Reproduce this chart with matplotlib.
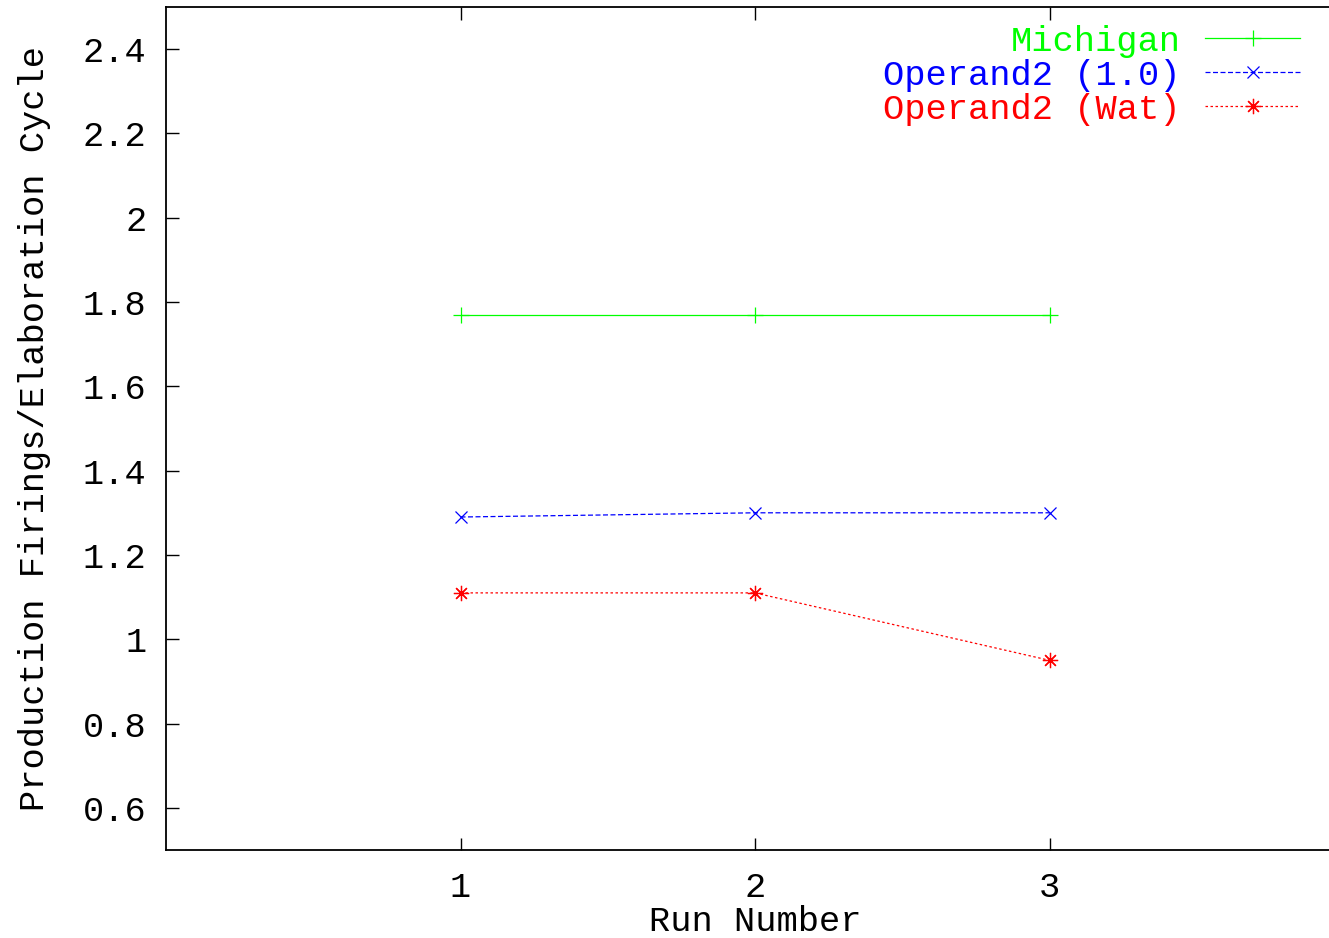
import numpy as np
import matplotlib.pyplot as plt

# данные
runs = [1, 2, 3]
michigan = [1.77, 1.77, 1.77]
operand_10 = [1.29, 1.30, 1.30]
operand_wat = [1.11, 1.11, 0.95]
y_ticks = [0.6, 0.8, 1.0, 1.2, 1.4, 1.6, 1.8, 2.0, 2.2, 2.4]
y_tick_labels = ["0.6", "0.8", "1", "1.2", "1.4", "1.6", "1.8", "2", "2.2", "2.4"]

plt.rcParams["font.family"] = ["Liberation Mono", "DejaVu Sans Mono"]
plt.rcParams["font.size"] = 25.5

fig = plt.figure(figsize=(13.29, 9.38), dpi=100)
# правая граница осей уходит за край картинки, как в оригинале
ax = fig.add_axes([166 / 1329, (938 - 850) / 938, 1178 / 1329, 843 / 938])

ax.plot(runs, michigan, color="#00ff00", lw=0.9, marker="+", ms=11, mew=0.9,
        label="Michigan")
ax.plot(runs, operand_10, color="#0000ff", lw=0.9, ls=(0, (4, 2)), marker="x",
        ms=9, mew=0.9, label="Operand2 (1.0)")
ax.plot(runs, operand_wat, color="#ff0000", lw=0.9, ls=(0, (2, 2)),
        marker=(8, 2, 0), ms=11, mew=0.9, label="Operand2 (Wat)")

ax.set_xlim(0, 4)
ax.set_ylim(0.5, 2.5)
ax.set_xticks(runs)
ax.set_xticklabels([str(r) for r in runs])
ax.set_yticks(y_ticks)
ax.set_yticklabels(y_tick_labels)
ax.tick_params(axis="x", direction="in", length=9, width=1, top=True, pad=15)
ax.tick_params(axis="y", direction="in", length=9, width=1, right=False, pad=14)
for s in ax.spines.values():
    s.set_linewidth(1.3)

ax.set_xlabel("Run Number", labelpad=1)
ax.set_ylabel("Production Firings/Elaboration Cycle", labelpad=23)

leg = ax.legend(loc="upper right", bbox_to_anchor=((1300 - 166) / 1178, 0.979),
                markerfirst=False, frameon=False, labelcolor="linecolor",
                handlelength=2.68, handletextpad=0.7, labelspacing=0.03,
                borderaxespad=0, borderpad=0)

fig.savefig("out.png", dpi=100)
